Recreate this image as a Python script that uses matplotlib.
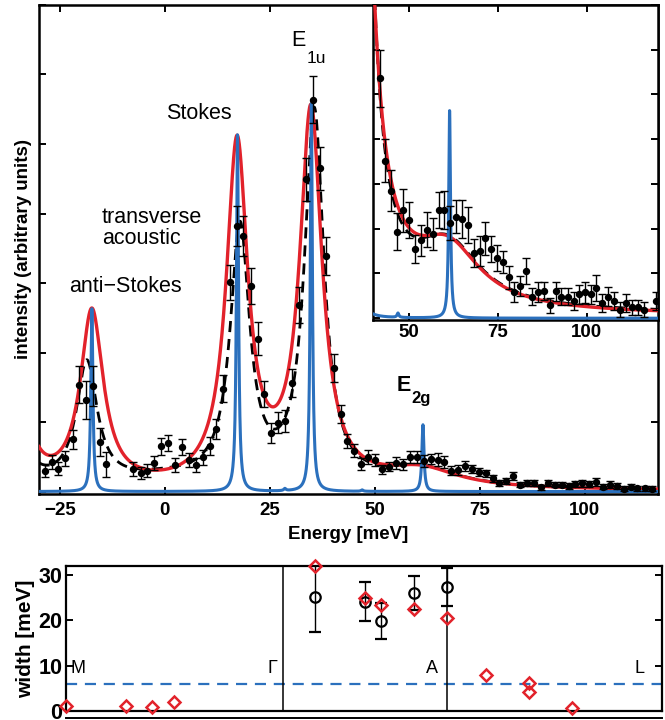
import numpy as np
import matplotlib
matplotlib.use('Agg')
import matplotlib.pyplot as plt

plt.rcParams['font.family'] = ['Liberation Sans', 'DejaVu Sans']

RED = '#e2222b'
BLUE = '#2b70bd'

# measured spectrum (arbitrary units)
energy = [-28.6, -27.0, -25.4, -23.7, -22.0, -20.5, -18.9, -17.2, -15.5, -14.0,
          -7.5, -5.8, -4.2, -2.5, -0.9, 0.8, 2.5, 4.1, 5.8, 7.4,
          9.1, 10.7, 12.3, 13.9, 15.6, 17.2, 18.6, 20.5, 22.2, 23.7,
          25.3, 27.0, 28.6, 30.4, 32.0, 33.6, 35.2, 36.9, 38.5, 40.2,
          41.9, 43.4, 45.0, 46.8, 48.4, 50.1, 51.8, 53.4, 55.1, 56.8,
          58.4, 60.0, 61.7, 63.3, 65.0, 66.6, 68.3, 69.9, 71.5, 73.2,
          74.8, 76.5, 78.1, 79.7, 81.4, 83.0, 84.7, 86.3, 88.0, 89.6,
          91.3, 92.9, 94.6, 96.3, 97.8, 99.4, 101.1, 102.7, 104.4, 106.0,
          107.7, 109.4, 111.0, 112.6, 114.3, 116.0, 119.4]
counts = [0.30, 0.42, 0.33, 0.48, 0.75, 1.54, 1.32, 1.52, 0.71, 0.39,
          0.32, 0.27, 0.30, 0.41, 0.65, 0.70, 0.38, 0.64, 0.45, 0.38,
          0.49, 0.66, 0.90, 1.48, 3.01, 3.82, 3.68, 2.96, 2.20, 1.40,
          0.84, 0.99, 1.02, 1.56, 2.68, 4.49, 5.64, 4.65, 3.39, 1.78,
          1.11, 0.73, 0.59, 0.40, 0.50, 0.455, 0.32, 0.36, 0.41, 0.39,
          0.50, 0.50, 0.44, 0.47, 0.46, 0.43, 0.30, 0.31, 0.37, 0.32,
          0.28, 0.26, 0.19, 0.12, 0.15, 0.22, 0.10, 0.12, 0.125, 0.06,
          0.125, 0.10, 0.10, 0.08, 0.11, 0.12, 0.11, 0.14, 0.07, 0.10,
          0.08, 0.04, 0.07, 0.05, 0.05, 0.04, 0.08]
counts_err = [0.09, 0.10, 0.09, 0.11, 0.14, 0.26, 0.27, 0.29, 0.20, 0.18,
              0.10, 0.09, 0.09, 0.10, 0.12, 0.12, 0.10, 0.12, 0.10, 0.10,
              0.11, 0.13, 0.15, 0.19, 0.25, 0.29, 0.29, 0.26, 0.24, 0.19,
              0.14, 0.15, 0.16, 0.20, 0.26, 0.31, 0.34, 0.31, 0.27, 0.20,
              0.13, 0.10, 0.095, 0.085, 0.10, 0.085, 0.065, 0.07, 0.08, 0.076,
              0.084, 0.088, 0.08, 0.076, 0.088, 0.084, 0.065, 0.07, 0.076, 0.06,
              0.06, 0.05, 0.053, 0.046, 0.046, 0.06, 0.038, 0.046, 0.042, 0.034,
              0.045, 0.04, 0.04, 0.04, 0.045, 0.05, 0.045, 0.06, 0.04, 0.045,
              0.04, 0.035, 0.04, 0.035, 0.035, 0.035, 0.04]

# Lorentzian fit parameters: centre [meV], height, half width [meV]
red_centres = [-34.8, -17.4, 17.2, 34.8, 61.0]
red_heights = [1.55, 2.52, 4.90, 5.36, 0.26]
red_widths = [3.0, 3.3, 3.1, 3.2, 11.0]
red_offset = 0.012

blue_centres = [-17.4, 17.3, 28.6, 34.9, 47.0, 61.5]
blue_heights = [2.63, 5.13, 0.03, 5.58, 0.02, 0.96]
blue_widths = [0.3, 0.3, 0.3, 0.3, 0.3, 0.3]

dash_centres = [-35.5, -18.6, 0.0, 17.9, 35.6, 61.0]
dash_heights = [1.0, 1.75, 0.14, 3.65, 5.35, 0.275]
dash_widths = [3.0, 3.0, 15.0, 2.8, 2.8, 11.0]
dash_offset = 0.02

# phonon widths along M-Gamma-A-L (path coordinate)
path_ticks = [0.0, 1.0, 1.756, 2.747]
path_names = ['M', 'Γ', 'A', 'L']
calc_q = [0.0, 0.276, 0.396, 0.498, 1.147, 1.378, 1.452, 1.604, 1.756, 1.934, 2.134, 2.134, 2.333]
calc_w = [1.2, 1.1, 0.8, 1.9, 32.0, 24.9, 23.4, 22.4, 20.5, 7.9, 6.1, 4.3, 0.6]
meas_q = [1.147, 1.378, 1.452, 1.604, 1.756]
meas_w = [25.2, 24.1, 19.9, 26.0, 27.4]
meas_err = [7.8, 4.3, 4.0, 3.8, 4.2]
resolution = 6.0


def lorentz_sum(x, centres, heights, widths, offset=0.0):
    y = np.full_like(x, offset)
    for c, h, w in zip(centres, heights, widths):
        y += h / (1.0 + ((x - c) / w) ** 2)
    return y


e_fine = np.linspace(-30, 120, 7501)
red_fit = lorentz_sum(e_fine, red_centres, red_heights, red_widths, red_offset)
blue_fit = lorentz_sum(e_fine, blue_centres, blue_heights, blue_widths)
dash_fit = lorentz_sum(e_fine, dash_centres, dash_heights, dash_widths, dash_offset)


def draw_spectrum(ax):
    ax.plot(e_fine, dash_fit, color='k', lw=2.0, ls=(0, (4, 2.5)), zorder=3)
    ax.plot(e_fine, red_fit, color=RED, lw=2.4, zorder=4)
    ax.plot(e_fine, blue_fit, color=BLUE, lw=2.2, zorder=5)
    ax.errorbar(energy, counts, yerr=counts_err, fmt='o', color='k', ms=4.3,
                elinewidth=1, capsize=3, capthick=1, zorder=6)
    for s in ax.spines.values():
        s.set_linewidth(1.8)
        s.set_zorder(2.5)


fig = plt.figure(figsize=(6.65, 7.2), dpi=100)

# main spectrum
ax = fig.add_axes([0.0586, 0.3139, 0.9308, 0.6792])
draw_spectrum(ax)
ax.set_xlim(-30, 117.5)
ax.set_ylim(-0.035, 7)
ax.set_xticks([-25, 0, 25, 50, 75, 100])
ax.set_yticks(range(8))
ax.tick_params(direction='in', length=5, width=1.4, top=True, right=True,
               labelleft=False, labelsize=13.5, pad=6)
plt.setp(ax.get_xticklabels(), fontweight='bold')
ax.set_xlabel('Energy [meV]', fontsize=13.5, fontweight='bold', labelpad=5)
ax.set_ylabel('intensity (arbitrary units)', fontsize=13.5, fontweight='bold')
ax.yaxis.set_label_coords(-0.011, 0.5)

ax.text(-9.4, 2.87, 'anti\u2212Stokes', fontsize=15.5, ha='center')
ax.text(-15.0, 3.87, 'transverse', fontsize=15.5, ha='left')
ax.text(-15.0, 3.56, 'acoustic', fontsize=15.5, ha='left')
ax.text(8.0, 5.36, 'Stokes', fontsize=15.5, ha='center')
ax.text(30.2, 6.41, 'E', fontsize=15.5, ha='left')
ax.annotate('1u', xy=(30.2, 6.41), xytext=(11.0, -12.0), textcoords='offset points',
            fontsize=12.5, ha='left')
ax.text(55.2, 1.44, 'E', fontsize=15.5, ha='left', fontweight='bold')
ax.annotate('2g', xy=(55.2, 1.44), xytext=(10.5, -8.5), textcoords='offset points',
            fontsize=12, ha='left', fontweight='bold')

# magnified high-energy part
axin = fig.add_axes([0.5609, 0.5556, 0.4286, 0.4375])
draw_spectrum(axin)
axin.set_xlim(40, 120)
axin.set_ylim(-0.008, 1.45)
axin.set_xticks([50, 75, 100])
axin.set_yticks(np.linspace(0, 1.45, 8))
axin.tick_params(direction='in', length=5, width=1.4, top=True, right=True,
                 labelleft=False, labelsize=13.5, pad=3)
plt.setp(axin.get_xticklabels(), fontweight='bold')

# widths along the high-symmetry path
axw = fig.add_axes([0.0992, 0.0125, 0.8962, 0.2014])
axw.axhline(resolution, color=BLUE, lw=1.6, ls=(0, (5, 3.5)), zorder=1)
for q in path_ticks[1:3]:
    axw.axvline(q, color='k', lw=1.1, zorder=2)
axw.errorbar(meas_q, meas_w, yerr=meas_err, fmt='o', mfc='none', mec='k', ms=7.5,
             mew=1.6, ecolor='k', elinewidth=1, capsize=4, capthick=1, zorder=3)
axw.plot(calc_q, calc_w, 'D', mfc='none', mec=RED, ms=6, mew=1.8,
         clip_on=False, zorder=4)
label_x = [0.055, 0.95, 1.687, 2.645]
for lx, name in zip(label_x, path_names):
    axw.text(lx, 9.3, name, fontsize=13, ha='center', va='center')
axw.set_xlim(path_ticks[0], path_ticks[-1])
axw.set_ylim(0, 32)
axw.set_xticks([])
axw.set_yticks([0, 10, 20, 30])
axw.tick_params(direction='in', length=5, width=1.4, right=True,
                labelsize=15.5, pad=2.5)
plt.setp(axw.get_yticklabels(), fontweight='bold')
axw.set_ylabel('width [meV]', fontsize=15, fontweight='bold')
axw.yaxis.set_label_coords(-0.052, 0.5)
for s in axw.spines.values():
    s.set_linewidth(1.6)

# top edge of the next panel
axn = fig.add_axes([0.0992, -0.25, 0.8962, 0.2528])
axn.set_xticks([])
axn.set_yticks([])
for side in ['left', 'right', 'bottom']:
    axn.spines[side].set_visible(False)
axn.spines['top'].set_linewidth(1.4)
axn.patch.set_alpha(0)

fig.savefig('out.png', dpi=100)
